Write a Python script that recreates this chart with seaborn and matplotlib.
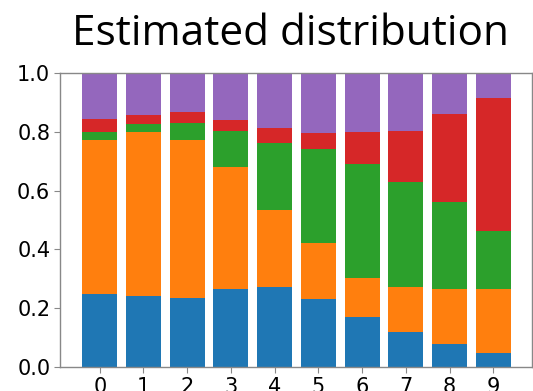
import numpy as np
import pandas as pd
import matplotlib
matplotlib.use("Agg")
import matplotlib.pyplot as plt
import seaborn as sns

# Per-category share of each of the five components (segment heights)
categories = [str(i) for i in range(10)]
comp_blue = [0.248, 0.243, 0.234, 0.267, 0.271, 0.231, 0.171, 0.119, 0.079, 0.049]
comp_orange = [0.524, 0.555, 0.536, 0.412, 0.263, 0.190, 0.131, 0.152, 0.188, 0.216]
comp_green = [0.026, 0.028, 0.059, 0.124, 0.228, 0.321, 0.389, 0.359, 0.295, 0.196]
comp_red = [0.044, 0.032, 0.037, 0.036, 0.050, 0.053, 0.107, 0.173, 0.299, 0.454]
comp_purple = [0.158, 0.142, 0.134, 0.161, 0.188, 0.205, 0.202, 0.197, 0.139, 0.085]

components = [comp_blue, comp_orange, comp_green, comp_red, comp_purple]
colors = sns.color_palette("tab10", 5)

sns.set_style("white")
plt.rcParams["font.family"] = ["DejaVu Sans"]
plt.rcParams["text.color"] = "black"
plt.rcParams["xtick.labelcolor"] = "black"
plt.rcParams["ytick.labelcolor"] = "black"

fig = plt.figure(figsize=(5.33, 3.91), dpi=100)
ax = fig.add_axes([60 / 533, (391 - 367.3) / 391, (531.7 - 60) / 533, (367.3 - 72.7) / 391])

# Stack by drawing cumulative totals from the top layer down
cum = np.cumsum(np.array(components), axis=0)
for level in range(len(components) - 1, -1, -1):
    df = pd.DataFrame({"cat": categories, "val": cum[level]})
    sns.barplot(data=df, x="cat", y="val", color=colors[level], saturation=1,
                width=0.8, ax=ax, linewidth=0, edgecolor="none")

ax.set_xlim(-0.91, 9.88)
ax.set_ylim(0, 1.0)
ax.set_yticks([0, 0.2, 0.4, 0.6, 0.8, 1.0])
ax.set_xlabel("")
ax.set_ylabel("")
ax.tick_params(axis="both", labelsize=15, length=4, width=0.8, color="#888888",
               labelcolor="black", left=True, bottom=True, pad=3)
for s in ax.spines.values():
    s.set_color("#888888")
    s.set_linewidth(1.0)

fig.text(290 / 533, 1 - 45 / 391, "Estimated distribution", ha="center", va="baseline",
         fontsize=30.5, family="Open Sans", color="black")

fig.savefig("out.png", dpi=100)
